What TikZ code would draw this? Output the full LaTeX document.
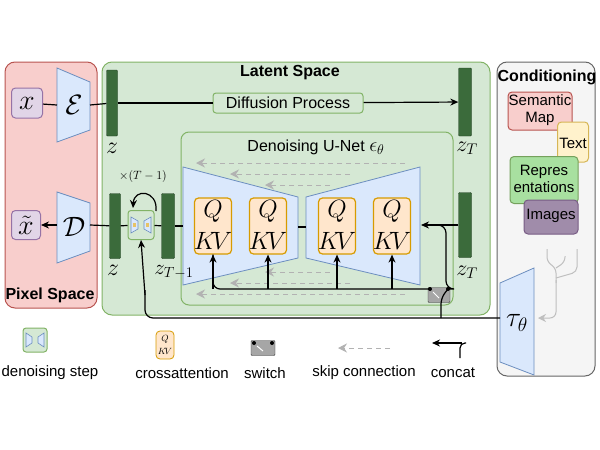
\documentclass[tikz,border=0pt]{standalone}
\usepackage{fontspec}
\usepackage{fix-cm}
\setmainfont{Liberation Sans}
\usetikzlibrary{arrows.meta}
\definecolor{redf}{HTML}{F8CECC}\definecolor{redd}{HTML}{B85450}
\definecolor{grnf}{HTML}{D5E8D4}\definecolor{grnd}{HTML}{82B366}
\definecolor{grayf}{HTML}{F5F5F5}\definecolor{grayd}{HTML}{666666}
\definecolor{purf}{HTML}{E1D5E7}\definecolor{purd}{HTML}{9673A6}
\definecolor{bluf}{HTML}{DAE8FC}\definecolor{blud}{HTML}{6C8EBF}
\definecolor{orf}{HTML}{FFE6CC}\definecolor{ord}{HTML}{D79B00}
\definecolor{yelf}{HTML}{FFF2CC}\definecolor{yeld}{HTML}{D6B656}
\definecolor{bar}{HTML}{3B6B3B}
\definecolor{reprf}{HTML}{A8E0A0}\definecolor{imgf}{HTML}{A08CAA}
\begin{document}
\begin{tikzpicture}[x=1pt,y=-1pt,
 txt/.style={font=\fontsize{16}{18}\selectfont,inner sep=0pt},
 ltxt/.style={font=\fontsize{15}{18}\selectfont,inner sep=0pt},
 btxt/.style={font=\fontsize{16}{18}\selectfont\bfseries,inner sep=0pt},
 region/.style={rounded corners=10pt,line width=1pt},
 zbar/.style={fill=bar,draw=bar!60!black,rounded corners=1pt},
 trap/.style={fill=bluf,draw=blud,line width=0.8pt},
 qkv/.style={fill=orf,draw=ord,line width=1.2pt,rounded corners=4pt},
 ln/.style={line width=1.2pt},
 arr/.style={ln,-{Stealth[length=8pt,width=7pt]}},
 skip/.style={gray!60,line width=1pt,dash pattern=on 5pt off 4pt,-{Stealth[length=9pt,width=9pt]}},
 mth/.style={inner sep=0pt},
 ]
\useasboundingbox (0,0) rectangle (600,450);
% regions
\draw[region,fill=redf,draw=redd] (5,62) rectangle (97,308);
\draw[region,fill=grnf,draw=grnd] (102,62) rectangle (490,315);
\draw[region,fill=grayf,draw=grayd] (497,62) rectangle (595,376);
\node[btxt] (tps) at (50,295) {Pixel Space};
\node[btxt] (tls) at (290,73) {Latent Space};
\node[btxt] (tcond) at (547,77) {Conditioning};
% pixel space
\node[draw=purd,fill=purf,rounded corners=4pt,line width=1pt,minimum width=31pt,minimum height=30pt,inner sep=0pt] (x) at (27,103) {\fontsize{28}{28}\selectfont$x$};
\node[draw=purd,fill=purf,rounded corners=4pt,line width=1pt,minimum width=29pt,minimum height=29pt,inner sep=0pt] (xt) at (26,225) {\fontsize{28}{28}\selectfont$\tilde{x}$};
\draw[trap] (57,68) -- (90,82) -- (90,130) -- (57,142) -- cycle;
\node[mth] (E) at (74,105) {\fontsize{28}{28}\selectfont$\mathcal{E}$};
\draw[trap] (57,192) -- (90,203) -- (90,251) -- (57,263) -- cycle;
\node[mth] (D) at (74,227) {\fontsize{28}{28}\selectfont$\mathcal{D}$};
\coordinate (Er) at (90,105); \coordinate (Dl) at (57,225); \coordinate (Dr) at (90,225);
\draw[ln] (x) -- (57,105);
\draw[arr] (Dl) -- (xt);
% latent top
\node[zbar,minimum width=11pt,minimum height=66pt,inner sep=0pt] (z1) at (112,103) {};
\node[mth] (lz1) at (112,148) {\fontsize{24}{24}\selectfont$z$};
\node[zbar,minimum width=13pt,minimum height=68pt,inner sep=0pt] (zT1) at (465,102) {};
\node[mth] (lzT1) at (467,148) {\fontsize{22}{22}\selectfont$z_T$};
\node[draw=grnd,fill=grnf,line width=1pt,rounded corners=3pt,minimum width=150pt,minimum height=20pt,txt] (diff) at (288,103) {Diffusion Process};
\draw[ln] (Er) -- (z1);
\draw[ln] (z1) -- (diff);
\draw[arr] (diff) -- (zT1);
% unet box
\draw[rounded corners=8pt,draw=grnd,line width=1pt,fill=grnf] (181,132) rectangle (453,305);
\node[txt] (tun) at (316,147) {Denoising U-Net \fontsize{20}{20}\selectfont$\epsilon_\theta$};
% skips
\draw[skip] (405,163) -- (196,163);
\draw[skip] (350,174) -- (230,174);
\draw[skip] (330,185) -- (265,185);
\draw[skip] (405,294) -- (196,294);
\draw[skip] (350,283) -- (230,283);
\draw[skip] (330,272) -- (265,272);
\draw[trap] (183,167) -- (298,197) -- (298,258) -- (183,285) -- cycle;
\draw[trap] (306,197) -- (420,167) -- (420,285) -- (306,258) -- cycle;
\draw[ln] (298,227) -- (306,227);
\foreach \n/\cx in {q1/213,q2/268,q3/337,q4/392}{
 \node[qkv,minimum width=37pt,minimum height=56pt] (\n) at (\cx,226) {};
 \node[mth] (\n t) at (\cx,211) {\fontsize{25}{25}\selectfont$Q$};
 \node[mth] (\n b) at (\cx,241) {\fontsize{25}{25}\selectfont$K\!V$};
}
% left latent
\node[zbar,minimum width=11pt,minimum height=65pt,inner sep=0pt] (z2) at (115,226) {};
\node[mth] (lz2) at (113,270) {\fontsize{24}{24}\selectfont$z$};
\node[zbar,minimum width=13pt,minimum height=65pt,inner sep=0pt] (zm) at (168,226) {};
\node[mth] (lzm) at (174,272) {\fontsize{21}{21}\selectfont$z_{T-1}$};
\node[draw=grnd,fill=grnf,line width=1pt,rounded corners=3pt,minimum width=26pt,minimum height=29pt] (step) at (141,225) {};
\draw[trap,line width=0.6pt] (131,217)--(138,221)--(138,229)--(131,233)--cycle;
\draw[trap,line width=0.6pt] (151,217)--(144,221)--(144,229)--(151,233)--cycle;
\fill[ord!60] (133,223) rectangle (136,227); \fill[ord!60] (146,223) rectangle (149,227);
\draw[ln] (Dr) -- (z2);
\draw[ln] (z2) -- (step);
\draw[ln] (step) -- (zm);
\draw[ln] (zm) -- (183,226);
\draw[arr] (156,211) .. controls (158,190) and (134,188) .. (133,208);
\node (tloop) at (143,176) {\fontsize{12}{12}\selectfont$\times(T-1)$};
% right latent
\node[zbar,minimum width=13pt,minimum height=65pt,inner sep=0pt] (zT2) at (465,225) {};
\node[mth] (lzT2) at (467,272) {\fontsize{22}{22}\selectfont$z_T$};
\draw[arr] (zT2.west) -- (421,225);
% switch
\node[fill=gray!70,draw=gray!40!black,minimum width=22pt,minimum height=15pt,rounded corners=1pt] (sw) at (439,295) {};
\fill (430,289) circle (2pt); \fill (448,289) circle (2pt);
\draw[white,line width=1pt] (433,292) -- (439,298);
% crossattention conditioning line
\draw[ln,rounded corners=7pt] (430,289) -- (213,289) -- (q1.south);
\draw[arr] (213,289) -- (q1.south);
\draw[arr,rounded corners=7pt] (268,289) -- (q2.south);
\draw[arr,rounded corners=7pt] (337,289) -- (q3.south);
\draw[arr,rounded corners=7pt] (392,289) -- (q4.south);
% concat from switch
\draw[ln,rounded corners=6pt] (448,289) -- (441,298) -- (441,318);
\draw[ln,rounded corners=8pt] (448,289) -- (446,289) -- (446,225) -- (436,225);
% tau
\draw[trap] (500,283) -- (534,268) -- (534,375) -- (500,362) -- cycle;
\node[mth] (tau) at (517,323) {\fontsize{28}{28}\selectfont$\tau_\theta$};
\draw[ln,rounded corners=8pt] (500,318) -- (145,318) -- (145,290);
\draw[arr] (145,295) -- (step.south);
% conditioning items
\node[draw=redd,fill=redf,rounded corners=4pt,line width=1pt,minimum width=64pt,minimum height=38pt] (sm) at (540,111) {};
\node[draw=yeld,fill=yelf,rounded corners=4pt,line width=1pt,minimum width=31pt,minimum height=40pt] (tx) at (573,142) {};
\node[txt,align=center,font=\fontsize{15}{17}\selectfont] (smt) at (540,110) {Semantic\\Map};
\node[txt,font=\fontsize{15}{17}\selectfont] (txt2) at (573,143) {Text};
\node[draw=grnd!90!black,fill=reprf,rounded corners=4pt,line width=1pt,minimum width=68pt,minimum height=47pt] (rep) at (544,180) {};
\node[draw=purd!80!black,fill=imgf,rounded corners=4pt,line width=1pt,minimum width=54pt,minimum height=34pt] (img) at (551,217) {};
\node[txt,align=center,font=\fontsize{15}{17}\selectfont] (rept) at (544,179) {Repres\\entations};
\node[txt,font=\fontsize{15}{17}\selectfont] (imgt) at (551,216) {Images};
\draw[gray!50,line width=1pt,rounded corners=5pt] (547,249) -- (547,262) -- (556,268) -- (556,283);
\draw[gray!50,line width=1pt,rounded corners=5pt] (565,256) -- (565,262) -- (556,268);
\draw[gray!50,line width=1pt,rounded corners=5pt] (577,249) -- (577,272) -- (556,278);
\draw[gray!50,line width=1pt,rounded corners=6pt,-{Stealth[length=8pt,width=8pt]}] (556,280) -- (556,318) -- (538,318);
% legend
\node[draw=grnd,fill=grnf,line width=1pt,rounded corners=3pt,minimum width=24pt,minimum height=24pt] (lstep) at (35,340) {};
\draw[trap,line width=0.6pt] (26,333)--(32,337)--(32,343)--(26,347)--cycle;
\draw[trap,line width=0.6pt] (44,333)--(38,337)--(38,343)--(44,347)--cycle;
\node[ltxt] (llstep) at (50,373) {denoising step};
\node[qkv,line width=0.8pt,minimum width=18pt,minimum height=28pt] (lq) at (165,345) {};
\node[mth] (lqt) at (165,339) {\fontsize{9}{9}\selectfont$Q$};
\node[mth] (lqb) at (165,351) {\fontsize{9}{9}\selectfont$K\!V$};
\node[ltxt] (llq) at (182,373) {crossattention};
\node[fill=gray!70,draw=gray!40!black,minimum width=24pt,minimum height=15pt,rounded corners=1pt] (lsw) at (263,348) {};
\fill (254,343) circle (2pt); \fill (272,343) circle (2pt);
\draw[white,line width=1pt] (257,346) -- (263,351);
\node[ltxt] (llsw) at (265,373) {switch};
\coordinate (sk1) at (390,348); \coordinate (sk2) at (338,348);
\draw[skip] (sk1) -- (sk2);
\node[ltxt] (llsk) at (364,373) {skip connection};
\coordinate (c1) at (460,358); \coordinate (c2) at (432,343);
\draw[ln,rounded corners=5pt] (c1) -- (460,343) -- (466,343);
\draw[arr] (462,343) -- (c2);
\node[ltxt] (llc) at (453,373) {concat};
\end{tikzpicture}
\end{document}
